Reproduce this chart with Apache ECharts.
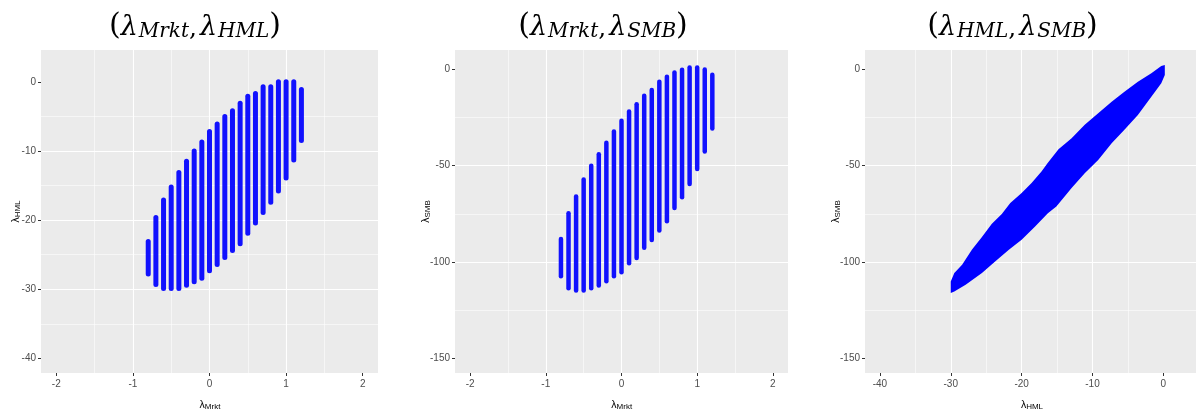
<!DOCTYPE html>
<html><head><meta charset="utf-8">
<script src="https://cdn.jsdelivr.net/npm/echarts@6/dist/echarts.min.js"></script>
<style>html,body{margin:0;padding:0;background:#fff}#c{width:1196px;height:414px}</style>
</head><body><div id="c"></div>
<script>
// ---- data ----
const mrkt = [-0.8,-0.7,-0.6,-0.5,-0.4,-0.3,-0.2,-0.1,0,0.1,0.2,0.3,0.4,0.5,0.6,0.7,0.8,0.9,1.0,1.1,1.2];
// panel 1: lambda_HML range per lambda_Mrkt
const hmlLow  = [-27.8,-29.3,-29.9,-29.9,-29.9,-29.4,-28.9,-28.4,-27.3,-26.4,-25.4,-24.4,-23.4,-21.9,-20.4,-18.9,-17.4,-15.8,-13.9,-11.3,-8.5];
const hmlHigh = [-23.1,-19.6,-17.1,-15.2,-13.1,-11.5,-10.0,-8.7,-7.2,-6.1,-5.0,-4.2,-3.1,-2.1,-1.7,-0.7,-0.7,0.0,0.0,0.0,-1.1];
// panel 2: lambda_SMB range per lambda_Mrkt
const smbLow  = [-107.3,-113.5,-114.7,-114.7,-113.5,-112.1,-109.9,-107.3,-105.2,-100.6,-97.8,-92.6,-88.5,-83.6,-78.8,-71.9,-66.4,-59.5,-51.7,-42.7,-30.7];
const smbHigh = [-88.0,-74.7,-66.0,-57.1,-50.0,-44.0,-38.1,-32.2,-26.7,-21.9,-18.1,-13.7,-10.8,-6.5,-3.9,-1.7,-0.3,0.9,0.9,-0.1,-2.8];
// panel 3: outline of the (lambda_HML, lambda_SMB) cloud
const bandUpperHml = [-30,-29.5,-28.4,-27,-25.6,-24.2,-22.8,-21.6,-20,-18.6,-17.2,-16.3,-14.8,-12.95,-11.1,-9.2,-7.3,-5.5,-3.6,-1.7,-0.3,0.2];
const bandUpperSmb = [-110.0,-105.6,-101.3,-93.5,-87.0,-80.1,-75.0,-69.4,-64.2,-59.0,-53.0,-48.5,-41.5,-35.7,-28.8,-22.8,-16.8,-11.6,-6.4,-2.1,1.7,2.2];
const bandLowerHml = [-30,-29.5,-27.9,-25.6,-23.7,-21.8,-20,-18.1,-16.3,-15.1,-12.95,-11.1,-9.2,-7.3,-5.5,-3.6,-1.7,-0.3,0.2];
const bandLowerSmb = [-116.0,-115.2,-111.7,-105.6,-99.6,-93.6,-88.4,-81.5,-74.6,-71.2,-61.6,-53.9,-47.0,-38.3,-31.4,-23.7,-14.2,-7.3,-3.0];
// tick labels
const mrktTicks = [-2,-1,0,1,2];
const hmlTicks = [-40,-30,-20,-10,0];
const smbTicks = [-150,-100,-50,0];
// titles
const panelTitles = [['Mrkt','HML'],['Mrkt','SMB'],['HML','SMB']];
const xTitles = ['Mrkt','Mrkt','HML'];
const yTitles = ['HML','SMB','SMB'];

// ---- chart ----
const BLUE = '#0000FF';
const tickFont = "'Liberation Sans Narrow','Liberation Sans',Arial,sans-serif";
const chart = echarts.init(document.getElementById('c'), null, {renderer:'canvas'});

function axis(gridIndex, min, max, step, ticks, isX){
  return {
    type:'value', gridIndex, min, max, minInterval:step, maxInterval:step,
    position: isX ? 'bottom' : 'left',
    axisLine:{show:false, onZero:false},
    axisTick:{show:true, length:3, customValues:ticks, lineStyle:{color:'#333333', width:1}},
    axisLabel:{customValues:ticks, color:'#4D4D4D', fontSize:10, fontFamily:tickFont, margin: isX?6:5},
    splitLine:{show:true, showMinLine:false, showMaxLine:false, lineStyle:{color:'#FFFFFF', width:1.1}},
    minorTick:{show:false, splitNumber:2},
    minorSplitLine:{show:true, lineStyle:{color:'#FFFFFF', width:0.55}}
  };
}
function columns(width){
  return function(params, api){
    const x = api.value(0), lo = api.value(1), hi = api.value(2);
    const a = api.coord([x, hi]), b = api.coord([x, lo]);
    return {type:'line', shape:{x1:a[0], y1:a[1], x2:b[0], y2:b[1]},
      style:{stroke:BLUE, lineWidth:width, lineCap:'round', opacity:0.93}};
  };
}
const titleRich = {
  p:{fontFamily:'DejaVu Serif', fontSize:30, lineHeight:36.8, verticalAlign:'bottom', color:'#000'},
  l:{fontFamily:'DejaVu Serif', fontStyle:'italic', fontSize:27, lineHeight:34.7, verticalAlign:'bottom', color:'#000', padding:[0,1,0,0]},
  c:{fontFamily:'DejaVu Serif', fontSize:25, lineHeight:33.3, verticalAlign:'bottom', color:'#000', padding:[0,3,0,0]},
  s:{fontFamily:'DejaVu Serif', fontStyle:'italic', fontSize:20, lineHeight:14, verticalAlign:'bottom', color:'#000'}
};
const axRich = {
  l:{fontFamily:'Liberation Sans', fontSize:10.5, lineHeight:13.3, verticalAlign:'bottom', color:'#000'},
  s:{fontFamily:'Liberation Sans', fontSize:8, lineHeight:3.5, verticalAlign:'bottom', color:'#000'}
};
const titleX = [195, 603, 1012.5];
const xTitleX = [210, 621.7, 1032];
const yTitleX = [15, 425, 835];
const graphics = [];
panelTitles.forEach((t,i)=>{
  graphics.push({type:'text', x:titleX[i], y:4.7, silent:true,
    style:{text:`{p|(}{l|λ}{s|${t[0]}}{c|,}{l|λ}{s|${t[1]}}{p|)}`, rich:titleRich, align:'center', verticalAlign:'top'}});
  graphics.push({type:'text', x:xTitleX[i], y:397, silent:true,
    style:{text:`{l|λ}{s|${xTitles[i]}}`, rich:axRich, align:'center', verticalAlign:'top'}});
  graphics.push({type:'text', x:yTitleX[i], y:211.5, rotation:Math.PI/2, silent:true,
    style:{text:`{l|λ}{s|${yTitles[i]}}`, rich:axRich, align:'center', verticalAlign:'middle'}});
});

const gridBase = {show:true, backgroundColor:'#EBEBEB', borderWidth:0, top:50, height:323, containLabel:false};
chart.setOption({
  backgroundColor:'#FFFFFF',
  animation:false,
  grid:[
    Object.assign({left:41, width:337}, gridBase),
    Object.assign({left:455, width:333}, gridBase),
    Object.assign({left:865, width:333.1}, gridBase)
  ],
  xAxis:[
    axis(0,-2.2,2.2,1,mrktTicks,true),
    axis(1,-2.2,2.2,1,mrktTicks,true),
    axis(2,-42.1,4.6,10,hmlTicks,true)
  ],
  yAxis:[
    axis(0,-42.1,4.6,10,hmlTicks,false),
    axis(1,-157.5,10,50,smbTicks,false),
    axis(2,-157.5,10,50,smbTicks,false)
  ],
  graphic: graphics,
  series:[
    {type:'custom', xAxisIndex:0, yAxisIndex:0, clip:false,
      data: mrkt.map((m,i)=>[m, hmlLow[i], hmlHigh[i]]), encode:{x:0, y:[1,2]}, renderItem:columns(5)},
    {type:'custom', xAxisIndex:1, yAxisIndex:1, clip:false,
      data: mrkt.map((m,i)=>[m, smbLow[i], smbHigh[i]]), encode:{x:0, y:[1,2]}, renderItem:columns(4.5)},
    {type:'custom', xAxisIndex:2, yAxisIndex:2, clip:false,
      data: [[-15,-50]], encode:{x:0, y:1},
      renderItem:function(params, api){
        const up = bandUpperHml.map((x,i)=>api.coord([x, bandUpperSmb[i]]));
        const low = bandLowerHml.map((x,i)=>api.coord([x, bandLowerSmb[i]])).reverse();
        return {type:'polygon', shape:{points: up.concat(low)}, style:{fill:BLUE}};
      }}
  ]
});
</script>
</body></html>
